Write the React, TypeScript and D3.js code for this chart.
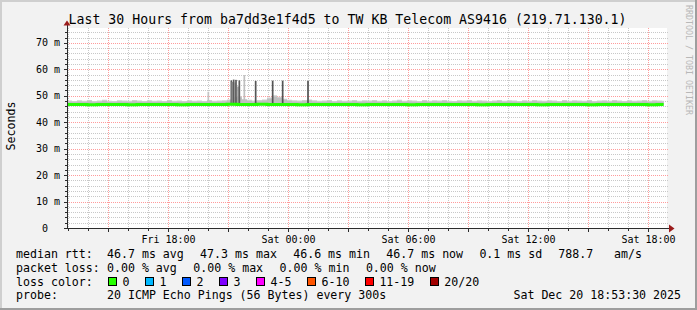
import React, { useEffect } from "react";
import * as d3 from "d3";

// ---------- data ----------
const startTime = "2025-12-19 12:57";
const endTime = "2025-12-20 18:57";
const smokeStepMinutes = 15;
// upper edge of the smoke (ms), one value per 15 minutes from start
const smokeTop = [
  48.2, 48.0, 48.3, 48.1, 48.4, 48.0, 48.2, 48.5, 48.1, 48.0, 48.3, 48.2,
  48.1, 48.4, 48.2, 48.0, 48.3, 48.1, 48.2, 48.0, 48.4, 48.1, 48.2, 48.0,
  48.3, 48.1, 48.2, 48.0, 48.4, 48.1, 48.2, 48.3, 48.6, 49.5, 49.8, 48.8,
  48.5, 48.2, 48.4, 48.6, 49.3, 50.2, 49.6, 48.9, 48.5, 48.3, 48.2, 48.4,
  48.6, 48.3, 48.1, 48.2, 48.4, 48.0, 48.3, 48.1, 48.2, 48.4, 48.1, 48.3,
  48.2, 48.4, 48.1, 48.3, 48.0, 48.2, 48.5, 48.1, 48.3, 48.2, 48.0, 48.4,
  48.1, 48.3, 48.2, 48.4, 48.1, 48.0, 48.3, 48.2, 48.4, 48.1, 48.3, 48.2,
  48.0, 48.2, 48.4, 48.1, 48.3, 48.2, 48.0, 48.3, 48.1, 48.4, 48.2, 48.1,
  48.3, 48.2, 48.0, 48.4, 48.1, 48.3, 48.2, 48.1, 48.4, 48.0, 48.2, 48.3,
  48.1, 48.4, 48.2, 48.0, 48.3, 48.1, 48.2, 48.4, 48.1, 48.3, 48.2, 48.1,
];
const smokeFloor = 46.4;
const medianStepMinutes = 30;
// median rtt (ms), one value per 30 minutes
const medianRtt = [
  46.7, 46.7, 46.6, 46.7, 46.7, 46.7, 46.6, 46.7, 46.7, 46.7,
  46.7, 46.6, 46.7, 46.7, 46.7, 46.7, 46.8, 46.7, 46.7, 46.8,
  46.7, 46.7, 46.7, 46.6, 46.7, 46.7, 46.7, 46.7, 46.7, 46.6,
  46.7, 46.7, 46.7, 46.7, 46.6, 46.7, 46.7, 46.7, 46.7, 46.7,
  46.7, 46.6, 46.7, 46.7, 46.7, 46.7, 46.7, 46.6, 46.7, 46.7,
  46.7, 46.7, 46.6, 46.7, 46.7, 46.7, 46.7, 46.7, 46.6, 46.7,
];
const spikeTimes = [
  "2025-12-19 20:01", "2025-12-19 21:10", "2025-12-19 21:13", "2025-12-19 21:17",
  "2025-12-19 21:21", "2025-12-19 21:24", "2025-12-19 21:30", "2025-12-19 21:34",
  "2025-12-19 21:49", "2025-12-19 22:23", "2025-12-19 23:14", "2025-12-19 23:44",
  "2025-12-20 01:00",
];
const spikeValues = [51.5, 55.8, 55.2, 56.1, 55.0, 56.0, 53.5, 55.8, 57.8, 55.6, 55.7, 55.7, 55.6];
const spikeShades = ["#c4c4c4", "#5c5c5c", "#909090", "#5c5c5c", "#909090", "#5c5c5c", "#a0a0a0", "#5c5c5c", "#c0c0c0", "#555555", "#555555", "#555555", "#555555"];

const yMax = 75.6;
const yMinorStep = 2;
const yMajorStep = 10;
const xLabels = ["Fri 18:00", "Sat 00:00", "Sat 06:00", "Sat 12:00", "Sat 18:00"];

const title = "Last 30 Hours from ba7dd3e1f4d5 to TW KB Telecom AS9416 (219.71.130.1)";
const rttItems = ["46.7 ms avg", "47.3 ms max", "46.6 ms min", "46.7 ms now", "0.1 ms sd"];
const lossItems = ["0.00 % avg", "0.00 % max", "0.00 % min", "0.00 % now"];
const amText = ["788.7", "am/s"];
const lossLabels = ["0", "1", "2", "3", "4-5", "6-10", "11-19", "20/20"];
const lossColors = ["#26ff00", "#00b8ff", "#0059ff", "#7e00ff", "#ff00ff", "#ff5500", "#ff0000", "#a10000"];
const probeText = "20 ICMP Echo Pings (56 Bytes) every 300s";
const stampText = "Sat Dec 20 18:53:30 2025";

// ---------- layout ----------
const W = 697, H = 310;
const L = 67, R = 667, T = 28, B = 228;
const MONO = "'DejaVu Sans Mono', monospace";
const CW = 6.98;

export default function App() {
  useEffect(() => {
    document.body.style.margin = "0";
  }, []);
  const parse = d3.timeParse("%Y-%m-%d %H:%M");
  const t0 = parse(startTime)!;
  const t1 = parse(endTime)!;
  const x = d3.scaleTime().domain([t0, t1]).range([L, R]);
  const y = d3.scaleLinear().domain([0, yMax]).range([B, T]);

  const hours = d3.timeHour.every(1)!.range(t0, t1);
  const minorX = hours.filter((h) => h.getHours() % 3 !== 0);
  const majorX = hours.filter((h) => h.getHours() % 3 === 0);
  const labelX = hours.filter((h) => h.getHours() % 6 === 0);

  const yVals = d3.range(yMinorStep, yMax, yMinorStep);
  const minorY = yVals.filter((v) => v % yMajorStep !== 0);
  const majorY = d3.range(yMajorStep, yMax, yMajorStep);
  const yLabelVals = d3.range(0, yMax, yMajorStep);

  const smokePts = smokeTop.map((v, i) => ({ t: d3.timeMinute.offset(t0, i * smokeStepMinutes), v }));
  smokePts.push({ t: d3.timeMinute.offset(t0, smokeTop.length * smokeStepMinutes - 10), v: smokeTop[smokeTop.length - 1] });
  const smokeArea = d3.area<{ t: Date; v: number }>()
    .x((d) => x(d.t)).y0(y(smokeFloor)).y1((d) => y(d.v)).curve(d3.curveStepAfter);
  const smokeInner = d3.area<{ t: Date; v: number }>()
    .x((d) => x(d.t)).y0(y(smokeFloor)).y1((d) => y(d.v - 0.45)).curve(d3.curveStepAfter);

  const medPts = medianRtt.map((v, i) => ({ t: d3.timeMinute.offset(t0, i * medianStepMinutes), v }));
  medPts.push({ t: d3.timeMinute.offset(t0, smokeTop.length * smokeStepMinutes - 10), v: medianRtt[medianRtt.length - 1] });
  const medLine = d3.line<{ t: Date; v: number }>().x((d) => x(d.t)).y((d) => y(d.v)).curve(d3.curveStepAfter);

  const px = (v: number) => Math.round(v) + 0.5;

  // legend box positions
  const boxX: number[] = [];
  let bx = 108.3;
  lossLabels.forEach((lab) => {
    boxX.push(bx);
    bx += 30 + CW * lab.length;
  });

  const rows = [258.3, 272, 285.7, 299.3];

  return (
    <div style={{ position: "absolute", left: 0, top: 0 }}>
      <svg width={W} height={H} style={{ display: "block" }} fontFamily={MONO}>
        <rect x={0} y={0} width={W} height={H} fill="#f2f2f2" />
        {/* frame */}
        <rect x={0} y={0} width={W} height={2} fill="#cfcfcf" />
        <rect x={0} y={0} width={2} height={H} fill="#cfcfcf" />
        <rect x={W - 2} y={0} width={2} height={H} fill="#9e9e9e" />
        <rect x={0} y={H - 2} width={W} height={2} fill="#9e9e9e" />

        <rect x={L} y={T} width={R - L} height={B - T} fill="#ffffff" />

        {/* minor grid */}
        {minorY.map((v) => (
          <line key={"my" + v} x1={L} x2={R + 2} y1={px(y(v))} y2={px(y(v))} stroke="#c8c8c8" strokeDasharray="1,1" />
        ))}
        {minorX.map((h) => (
          <line key={"mx" + +h} x1={px(x(h))} x2={px(x(h))} y1={T} y2={B} stroke="#c8c8c8" strokeDasharray="1,1" />
        ))}
        {/* major grid */}
        {majorY.map((v) => (
          <line key={"My" + v} x1={L} x2={R + 2} y1={px(y(v))} y2={px(y(v))} stroke="#ff9b9b" strokeDasharray="1,1" />
        ))}
        {majorX.map((h) => (
          <line key={"Mx" + +h} x1={px(x(h))} x2={px(x(h))} y1={T} y2={B} stroke="#ff9b9b" strokeDasharray="1,1" />
        ))}

        {/* smoke */}
        <path d={smokeArea(smokePts)!} fill="#cfcfcf" />
        <path d={smokeInner(smokePts)!} fill="#bfbfbf" />
        {spikeTimes.map((s, i) => {
          const t = parse(s)!;
          const xx = x(t);
          return (
            <rect key={"sp" + i} x={xx - 0.85} width={1.7} y={y(spikeValues[i])} height={y(smokeFloor) - y(spikeValues[i])} fill={spikeShades[i]} />
          );
        })}
        {/* median */}
        <path d={medLine(medPts)!} fill="none" stroke="#22ff00" strokeWidth={3} />

        {/* axes */}
        <line x1={L + 0.5} x2={L + 0.5} y1={25} y2={B + 1} stroke="#2c2c2c" />
        <line x1={L} x2={669} y1={B + 0.5} y2={B + 0.5} stroke="#2c2c2c" />
        <path d={`M63.5,25.5 L70.5,25.5 L67,20.5 Z`} fill="#9b1c1c" />
        <path d={`M669,224.5 L669,232.5 L674.5,228.5 Z`} fill="#9b1c1c" />
        {yVals.concat([0]).map((v) => (
          <line key={"ty" + v} x1={v % yMajorStep === 0 ? 64 : 65} x2={L} y1={px(y(v))} y2={px(y(v))} stroke="#2c2c2c" />
        ))}
        {hours.map((h) => (
          <line key={"tx" + +h} x1={px(x(h))} x2={px(x(h))} y1={B} y2={h.getHours() % 3 === 0 ? B + 4 : B + 3} stroke="#2c2c2c" />
        ))}

        {/* y labels */}
        {yLabelVals.map((v) => (
          <text key={"yl" + v} x={60} y={y(v) + 3.5} fontSize={10} textAnchor="end" fill="#000" style={{ whiteSpace: "pre" }}>
            {v === 0 ? " 0  " : `${v} m`}
          </text>
        ))}
        {labelX.map((h, i) => (
          <text key={"xl" + +h} x={x(h) + 0.5} y={243} fontSize={10} textAnchor="middle" fill="#000">
            {xLabels[i]}
          </text>
        ))}

        <text x={347.5} y={24} fontSize={13.2} textAnchor="middle" fill="#000" textLength={558} lengthAdjust="spacing">{title}</text>
        <text transform="translate(15,126) rotate(-90)" fontSize={11.6} textAnchor="middle" fill="#000">Seconds</text>
        <text transform="translate(685.5,5) rotate(90)" fontSize={8.3} fill="#b8b8b8">RRDTOOL / TOBI OETIKER</text>

        {/* legend */}
        <g fontSize={11.6} fill="#000" style={{ whiteSpace: "pre" }}>
          <text x={16} y={rows[0]}>median rtt:</text>
          {rttItems.map((s, i) => (
            <text key={"r" + i} x={107 + i * 93.1} y={rows[0]}>{s}</text>
          ))}
          <text x={558.3} y={rows[0]}>{amText[0]}</text>
          <text x={614} y={rows[0]}>{amText[1]}</text>

          <text x={16} y={rows[1]}>packet loss:</text>
          {lossItems.map((s, i) => (
            <text key={"l" + i} x={107 + i * 86.3} y={rows[1]}>{s}</text>
          ))}

          <text x={16} y={rows[2]}>loss color:</text>
          {lossLabels.map((lab, i) => (
            <g key={"lc" + i}>
              <rect x={Math.round(boxX[i]) + 0.5} y={277.5} width={8} height={8} fill={lossColors[i]} stroke="#000" />
              <text x={boxX[i] + 14.3} y={rows[2]}>{lab}</text>
            </g>
          ))}

          <text x={16} y={rows[3]}>probe:</text>
          <text x={107} y={rows[3]}>{probeText}</text>
          <text x={681} y={rows[3]} textAnchor="end">{stampText}</text>
        </g>
      </svg>
    </div>
  );
}
